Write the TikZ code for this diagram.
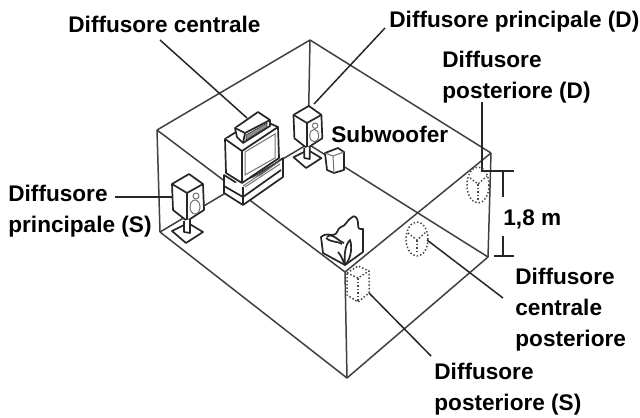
\documentclass[tikz,border=0pt]{standalone}
\usepackage{xcolor}
\usepackage{fontspec}
\setmainfont{Liberation Sans}
\usetikzlibrary{positioning}

\tikzset{
	wall/.style={draw=black!75,line width=.75pt},
	leader/.style={draw=black!85,line width=.75pt},
	body/.style={draw=black!85,line width=.85pt,fill=white,line join=round},
	thinline/.style={draw=black!55,line width=.5pt},
	hidden/.style={draw=black!70,line width=.75pt,densely dotted,line join=round},
	caption/.style={font=\fontsize{11.3}{15.5}\selectfont\bfseries,inner sep=0pt,anchor=north west,align=left},
	pics/speaker/.style={code={
		\path[body]	(-15,-9) -- (2,-19) -- (16,-9) -- (17,17) -- (0,28) -- (-14,17) -- cycle;
		\path[body]	(-15,-9) -- (0,0) -- (16,-9);
		\path[body]	(0,0) -- (0,28);
		\path[body]	(-15,38) -- (1,30) -- (16,39) -- (-1,50) -- cycle;
		\path[body]	(-3,28) -- (-3,39) -- (3,40) -- (3,26);
		\path[thinline]	(9,3) circle (3);
		\path[thinline]	(8,14) ellipse (5 and 7);
	}}
}

\begin{document}
\begin{tikzpicture}[x=.5pt,y=-.5pt]
		\useasboundingbox (0,0) rectangle (640,417);

		% room
		\coordinate	(lt)	at (157,130);
		\coordinate	(bt)	at (310,40);
		\coordinate	(rt)	at (491,153);
		\coordinate	(ft)	at (345,272);
		\coordinate	(lb)	at (160,232);
		\coordinate	(bb)	at (308,144);
		\coordinate	(rb)	at (488,257);
		\coordinate	(fb)	at (347,378);

		\path[wall]	(lt)	edge	(bt)
							edge	(ft)
							edge	(lb)
					(rt)	edge	(bt)
							edge	(ft)
							edge	(rb)
					(ft)	edge	(fb)
					(bb)	edge	(bt)
							edge	(lb)
							edge	(rb)
					(fb)	edge	(lb)
							edge	(rb);

		% leaders
		\coordinate	(to_c)		at (160,40);
		\coordinate	(at_c)		at (247,118);
		\coordinate	(to_pd)		at (385,28);
		\coordinate	(at_pd)		at (314,104);
		\coordinate	(to_ps)		at (115,197);
		\coordinate	(at_ps)		at (172,197);
		\coordinate	(to_rd)		at (482,102);
		\coordinate	(at_rd)		at (482,172);
		\coordinate	(to_rc)		at (503,298);
		\coordinate	(at_rc)		at (427,240);
		\coordinate	(to_rs)		at (431,356);
		\coordinate	(at_rs)		at (369,293);

		\path[leader]	(to_c)	edge	(at_c)
						(to_pd)	edge	(at_pd)
						(to_ps)	edge	(at_ps)
						(to_rd)	edge	(at_rd)
						(to_rc)	edge	(at_rc)
						(to_rs)	edge	(at_rs);

		% speakers
		\pic at (187,193)	{speaker};
		\pic[scale=.9] at (307,123)	{speaker};

		% tv
		\path[body]	(224,175) -- (243,187) -- (283,158) -- (283,177) -- (243,205) -- (224,193) -- cycle;
		\path[body]	(224,186) -- (243,197) -- (281,170);
		\path[body]	(243,187) -- (243,205);
		\path[body]	(225,139) -- (258,118) -- (278,127) -- (279,158) -- (242,183) -- (226,173) -- cycle;
		\path[body]	(225,139) -- (242,151) -- (278,127);
		\path[body]	(242,151) -- (242,183);
		\path[thinline]	(245,152) -- (275,134) -- (275,158) -- (245,175) -- cycle;
		\path[thinline]	(243,186) -- (280,161);
		\path[thinline]	(245,187) -- (280,164);

		% center speaker
		\path[body]	(235,128) -- (258,112) -- (270,120) -- (270,126) -- (243,143) -- (237,137) -- cycle;
		\path[body]	(235,128) -- (245,133) -- (270,120);
		\path[body]	(245,133) -- (243,143);
		\path[draw=black!80,fill=black!45,line width=.3pt]	(246,135) -- (267,123) -- (267,127) -- (246,140) -- cycle;

		% subwoofer
		\path[body]	(325,153) -- (338,148) -- (344,152) -- (344,170) -- (334,173) -- (327,170) -- cycle;
		\path[thinline]	(325,153) -- (333,156) -- (344,152);
		\path[thinline]	(333,156) -- (334,173);

		% plant
		\path[body]	(321,237) .. controls (325,233) and (330,235) .. (333,235)
					.. controls (338,235) and (337,228) .. (341,227)
					.. controls (346,226) and (347,220) .. (351,218)
					.. controls (354,214) and (358,217) .. (358,224)
					.. controls (358,230) and (360,229) .. (363,229)
					-- (363,252) -- (345,265) -- (323,253) -- cycle;
		\path[body]	(326,238) .. controls (332,243) and (338,241) .. (342,244);
		\path[body]	(327,237) .. controls (332,232) and (338,241) .. (344,243);
		\path[body]	(338,252) .. controls (342,256) and (343,262) .. (345,265)
					.. controls (352,258) and (352,245) .. (350,240)
					.. controls (345,245) and (344,255) .. (345,265);

		% rear speakers
		\path[hidden]	(347,273) -- (358,266) -- (369,271) -- (369,293) -- (358,302) -- (347,295) -- cycle;
		\path[hidden]	(347,273) -- (358,278) -- (369,271);
		\path[hidden]	(358,278) -- (358,302);
		\path[hidden]	(417,239) ellipse (11 and 17);
		\path[hidden]	(408,233) -- (417,240) -- (426,232);
		\path[hidden]	(417,240) -- (417,254);
		\path[hidden]	(478,185) ellipse (11 and 18);
		\path[hidden]	(470,178) -- (478,184) -- (487,176);
		\path[hidden]	(478,184) -- (478,201);

		% height
		\coordinate	(h_tl)	at (482,171);
		\coordinate	(h_tr)	at (514,171);
		\coordinate	(h_bl)	at (494,256);
		\coordinate	(h_br)	at (514,256);
		\coordinate	(h_t)	at (503,171);
		\coordinate	(h_b)	at (503,256);
		\node[caption]	(h_label)	at (503,209)	{1,8 m};
		\path[leader]	(h_tl)	edge	(h_tr)
						(h_bl)	edge	(h_br)
						(h_t)	edge	(503,197)
						(h_b)	edge	(503,236);

		% labels
		\node[caption]	(c_label)	at (68,16)		{Diffusore centrale};
		\node[caption]	(pd_label)	at (389,11)		{Diffusore principale (D)};
		\node[caption]	(rd_label)	at (442,51)		{Diffusore\\posteriore (D)};
		\node[caption]	(sw_label)	at (331,126)	{Subwoofer};
		\node[caption]	(ps_label)	at (8,185)		{Diffusore\\principale (S)};
		\node[caption]	(rc_label)	at (515,268)	{Diffusore\\centrale\\posteriore};
		\node[caption]	(rs_label)	at (434,363)	{Diffusore\\posteriore (S)};
	\end{tikzpicture}
\end{document}
